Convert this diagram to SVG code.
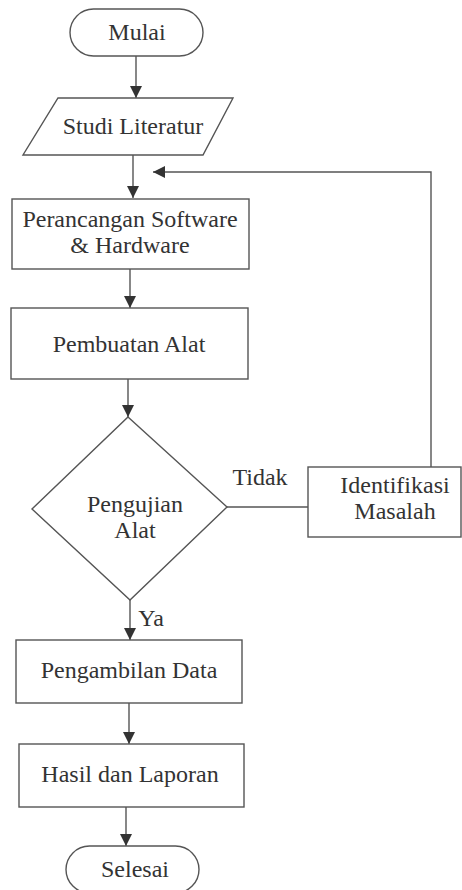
<svg xmlns="http://www.w3.org/2000/svg" width="462" height="890" viewBox="0 0 462 890">
<defs>
<marker id="ah" markerWidth="12" markerHeight="13" refX="12" refY="6" orient="auto" markerUnits="userSpaceOnUse">
<path d="M0,0 L12,6 L0,12 Z" fill="#333"/>
</marker>
<style>
.s{fill:#fff;stroke:#555;stroke-width:1.4}
.t{font-size:24px;fill:#333;text-anchor:middle}
.c{fill:none;stroke:#555;stroke-width:1.4}
</style>
</defs>
<rect width="462" height="890" fill="#fff"/>
<g font-family="Liberation Serif, Tinos, DejaVu Serif, serif">
<g id="connectors">
<line class="c" x1="136" y1="56" x2="136" y2="98" marker-end="url(#ah)"/>
<line class="c" x1="133" y1="155" x2="133" y2="198" marker-end="url(#ah)"/>
<polyline class="c" points="431,467 431,172 153,172" marker-end="url(#ah)"/>
<line class="c" x1="130" y1="269" x2="130" y2="308" marker-end="url(#ah)"/>
<line class="c" x1="128" y1="379" x2="128" y2="417" marker-end="url(#ah)"/>
<line class="c" x1="227" y1="507" x2="308" y2="507"/>
<line class="c" x1="130" y1="600" x2="130" y2="640" marker-end="url(#ah)"/>
<line class="c" x1="129" y1="703" x2="129" y2="744" marker-end="url(#ah)"/>
<line class="c" x1="126" y1="807" x2="126" y2="846" marker-end="url(#ah)"/>
<text class="t" x="260" y="485">Tidak</text>
<text class="t" x="151" y="626">Ya</text>
</g>
<g id="mulai">
<rect class="s" x="70" y="9" width="133" height="47" rx="23.5"/>
<text class="t" x="137" y="40">Mulai</text>
</g>
<g id="studi">
<polygon class="s" points="58,98 233,98 203,155 23,155"/>
<text class="t" x="133" y="134">Studi Literatur</text>
</g>
<g id="perancangan">
<rect class="s" x="12" y="199" width="237" height="70"/>
<text class="t" x="130" y="227">Perancangan Software</text>
<text class="t" x="130" y="253">&amp; Hardware</text>
</g>
<g id="pembuatan">
<rect class="s" x="11" y="308" width="237" height="71"/>
<text class="t" x="129" y="352">Pembuatan Alat</text>
</g>
<g id="pengujian">
<polygon class="s" points="128,417 227,507 130,600 32,509"/>
<text class="t" x="135" y="512">Pengujian</text>
<text class="t" x="135" y="538">Alat</text>
</g>
<g id="identifikasi">
<rect class="s" x="308" y="467" width="153" height="70"/>
<text class="t" x="395" y="493">Identifikasi</text>
<text class="t" x="395" y="519">Masalah</text>
</g>
<g id="pengambilan">
<rect class="s" x="16" y="640" width="226" height="63"/>
<text class="t" x="129" y="678">Pengambilan Data</text>
</g>
<g id="hasil">
<rect class="s" x="19" y="744" width="225" height="63"/>
<text class="t" x="130" y="782">Hasil dan Laporan</text>
</g>
<g id="selesai">
<rect class="s" x="66" y="846" width="133" height="47" rx="23.5"/>
<text class="t" x="135" y="877">Selesai</text>
</g>
</g>
</svg>
